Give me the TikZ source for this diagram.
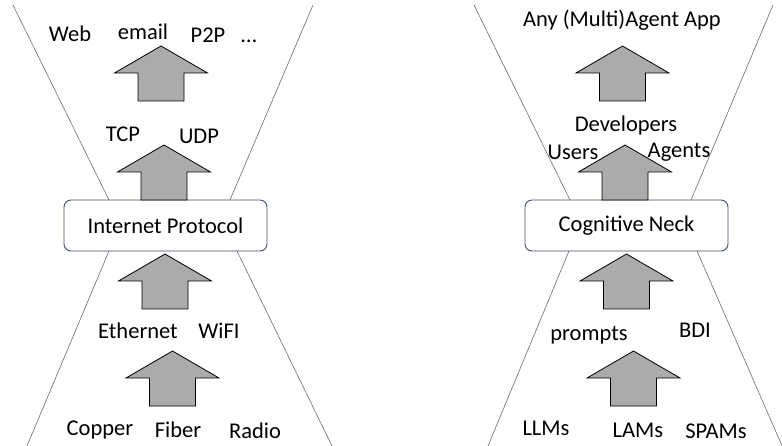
\documentclass[tikz,border=0pt]{standalone}
\usepackage{fontspec}
\setmainfont{Carlito}
\definecolor{boxline}{HTML}{3F4D6E}
\definecolor{arrfill}{HTML}{ABABAB}
\definecolor{glassline}{HTML}{555555}
\tikzset{
  neck/.style={draw=boxline, line width=0.9pt, rounded corners=7pt, fill=white,
    minimum width=203pt, minimum height=51pt, font=\fontsize{22.5}{25}\selectfont},
  lbl/.style={font=\fontsize{22.5}{25}\selectfont, inner sep=0pt,
    text height=14pt, text depth=3pt},
  glass/.style={draw=glassline, line width=0.5pt},
  uparr/.pic={\draw[fill=arrfill, line width=0.8pt]
    (-23,0) -- (-23,-28) -- (-46.5,-28) -- (0,-55) -- (46.5,-28) -- (23,-28) -- (23,0) -- cycle;}
}
\begin{document}
\begin{tikzpicture}[x=1pt,y=-1pt]
\useasboundingbox (0,0) rectangle (782,446);
% left hourglass
\draw[glass] (13,5) -- (109,200);
\draw[glass] (313,5) -- (230,200);
\draw[glass] (109,251) -- (27,446);
\draw[glass] (237,251) -- (332,446);
\node[neck] (ip) at (165.5,225.5) {Internet Protocol};
\pic at (161,101) {uparr};
\pic at (164,200) {uparr};
\pic at (165,309) {uparr};
\pic at (172.5,406) {uparr};
\node[lbl] (web) at (70,36) {Web};
\node[lbl] (email) at (143,34) {email};
\node[lbl] (ptp) at (208,37) {P2P};
\node[lbl] (more) at (249,37) {\dots};
\node[lbl] (tcp) at (123,136) {TCP};
\node[lbl] (udp) at (199,138) {UDP};
\node[lbl] (eth) at (138,333) {Ethernet};
\node[lbl] (wifi) at (219,333) {WiFI};
\node[lbl] (copper) at (100,430) {Copper};
\node[lbl] (fiber) at (178,432) {Fiber};
\node[lbl] (radio) at (255,433) {Radio};
% right hourglass
\draw[glass] (474,5) -- (570,200);
\draw[glass] (773,5) -- (691,200);
\draw[glass] (569,251) -- (488,446);
\draw[glass] (697,251) -- (783,448);
\node[neck] (cn) at (626.5,225.5) {Cognitive Neck};
\pic at (622.5,101) {uparr};
\pic at (625,200) {uparr};
\pic at (626.5,309) {uparr};
\pic at (633.5,406) {uparr};
\node[lbl] (app) at (622,21) {Any (Multi)Agent App};
\node[lbl] (dev) at (626,126) {Developers};
\node[lbl] (users) at (573,154) {Users};
\node[lbl] (agents) at (679,152) {Agents};
\node[lbl] (prompts) at (589,335) {prompts};
\node[lbl] (bdi) at (695,332) {BDI};
\node[lbl] (llm) at (546,430) {LLMs};
\node[lbl] (lam) at (638,432) {LAMs};
\node[lbl] (spam) at (716,433) {SPAMs};
\end{tikzpicture}
\end{document}
